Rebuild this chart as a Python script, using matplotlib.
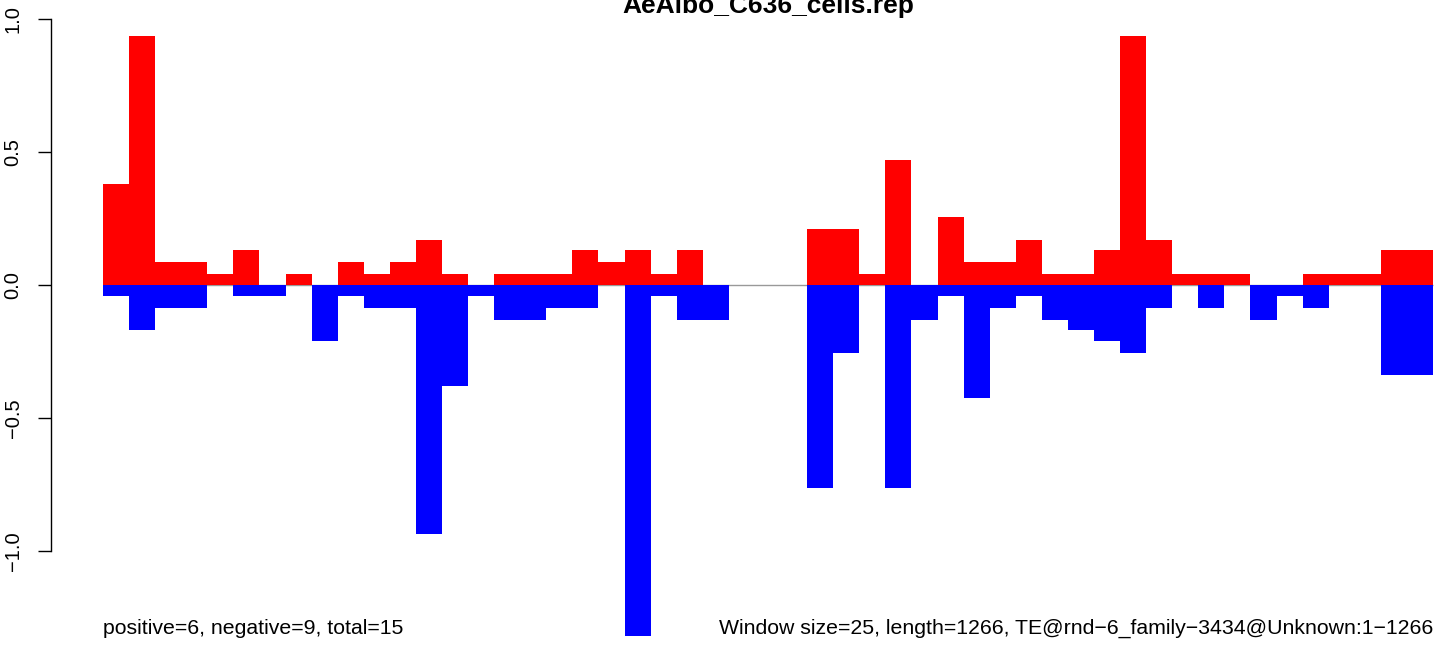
import matplotlib
matplotlib.use("Agg")
import matplotlib.pyplot as plt
import numpy as np

plt.rcParams["font.family"] = ["Liberation Sans", "DejaVu Sans"]

title = "AeAlbo_C636_cells.rep"
left_note = "positive=6, negative=9, total=15"
right_note = "Window size=25, length=1266, TE@rnd\u22126_family\u22123434@Unknown:1\u22121266"

# one value per 25 bp window (51 windows)
positive = [0.38, 0.935, 0.085, 0.085, 0.04, 0.13, 0, 0.04, 0, 0.085,
            0.04, 0.085, 0.17, 0.04, 0, 0.04, 0.04, 0.04, 0.13, 0.085,
            0.13, 0.04, 0.13, 0, 0, 0, 0, 0.21, 0.21, 0.04,
            0.47, 0, 0.255, 0.085, 0.085, 0.17, 0.04, 0.04, 0.13, 0.935,
            0.17, 0.04, 0.04, 0.04, 0, 0, 0.04, 0.04, 0.04, 0.13,
            0.13]
negative = [0.04, 0.17, 0.085, 0.085, 0, 0.04, 0.04, 0, 0.21, 0.04,
            0.085, 0.085, 0.935, 0.38, 0.04, 0.13, 0.13, 0.085, 0.085, 0,
            1.32, 0.04, 0.13, 0.13, 0, 0, 0, 0.765, 0.255, 0,
            0.765, 0.13, 0.04, 0.425, 0.085, 0.04, 0.13, 0.17, 0.21, 0.255,
            0.085, 0, 0.085, 0, 0.13, 0.04, 0.085, 0, 0, 0.34,
            0.34]
yticks = [-1.0, -0.5, 0.0, 0.5, 1.0]
ytick_labels = ["\u22121.0", "\u22120.5", "0.0", "0.5", "1.0"]

W, H = 1444, 646
fig = plt.figure(figsize=(W / 100, H / 100), dpi=100)

# plot area in pixels: bars from x=103 to 1433, zero at y=285, 266 px per unit
ax_left, ax_right = 51, 1444
ax_top, ax_bottom = 10, 640
ax = fig.add_axes([ax_left / W, 1 - ax_bottom / H,
                   (ax_right - ax_left) / W, (ax_bottom - ax_top) / H])

n = len(positive)
bar_px = (1433 - 103) / n
ax.set_xlim((ax_left - 103) / bar_px, (ax_right - 103) / bar_px)
ax.set_ylim(-(ax_bottom - 285) / 266, (285 - ax_top) / 266)

x = np.arange(n)
ax.hlines(0, 0, n, color="#999999", lw=1, zorder=1)
ax.bar(x, positive, width=1, align="edge", color="red", lw=0, zorder=2)
ax.bar(x, [-v for v in negative], width=1, align="edge", color="blue", lw=0, zorder=2)

for s in ["top", "right", "bottom"]:
    ax.spines[s].set_visible(False)
ax.spines["left"].set_bounds(-1, 1)
ax.spines["left"].set_linewidth(1)
ax.set_xticks([])
ax.set_yticks(yticks)
ax.set_yticklabels(ytick_labels, rotation=90, va="center", fontsize=14.5)
ax.tick_params(axis="y", length=9.4, width=1, pad=11)

fig.text(768 / W, 1 - 12.5 / H, title, ha="center", va="baseline",
         fontsize=19, fontweight="bold")
fig.text(103 / W, 1 - 634 / H, left_note, ha="left", va="baseline", fontsize=15.3)
fig.text(1433 / W, 1 - 634 / H, right_note, ha="right", va="baseline", fontsize=15.3)

fig.savefig("out.png", dpi=100)
